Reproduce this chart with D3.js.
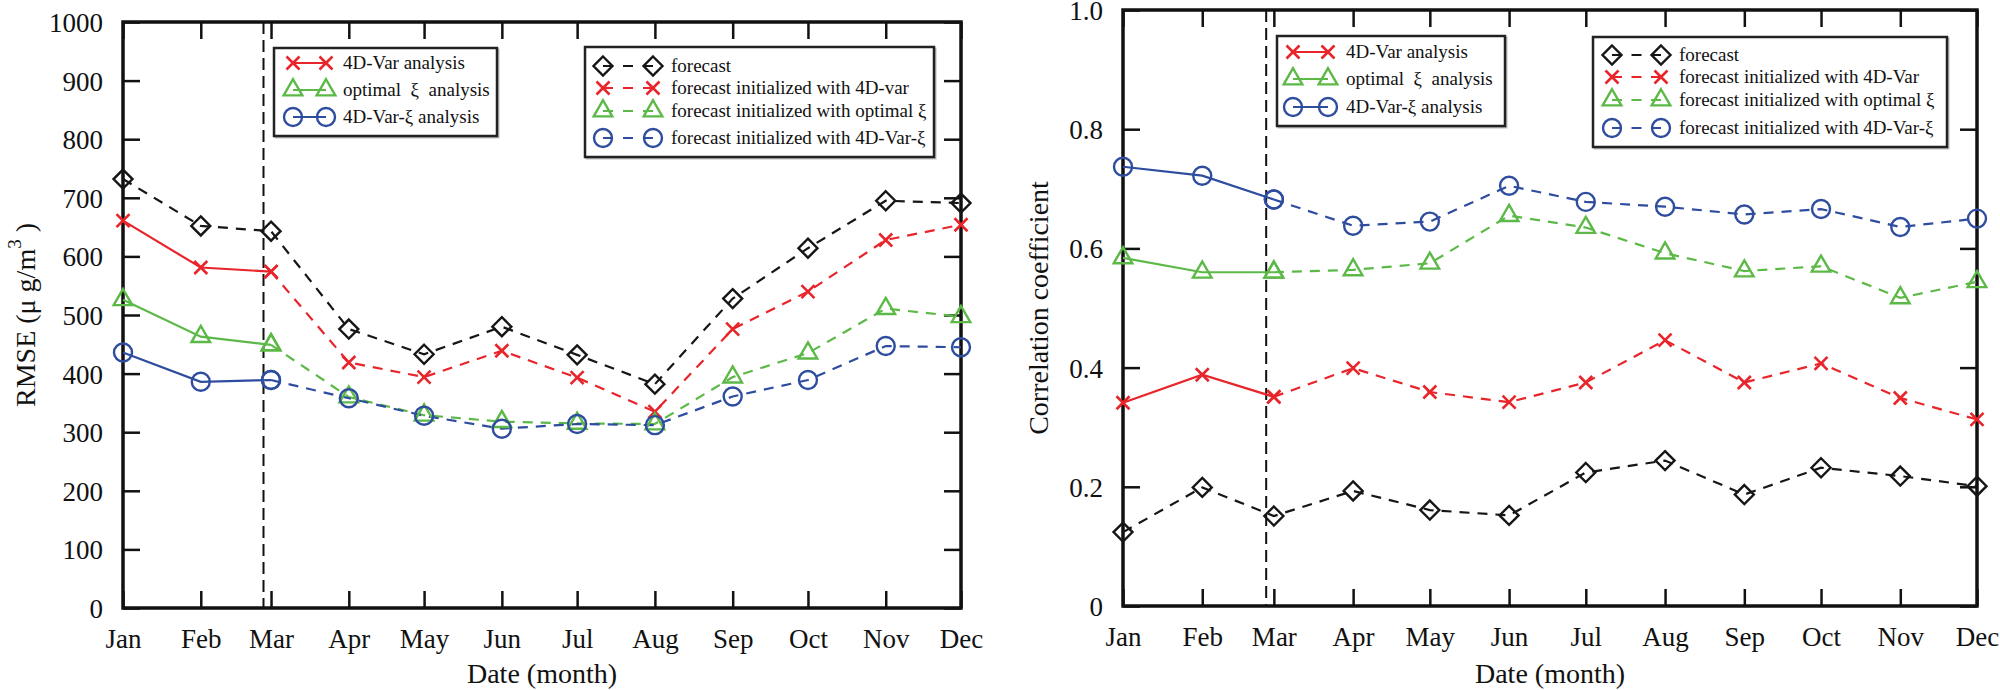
<!DOCTYPE html>
<html>
<head>
<meta charset="utf-8">
<script src="https://cdn.jsdelivr.net/npm/d3@7/dist/d3.min.js"></script>
<style>
  body { margin: 0; background: #fff; }
  svg text { font-family: "Liberation Serif", "Times New Roman", Times, serif; fill: #111; }
</style>
</head>
<body>
<svg id="chart" width="2000" height="690"></svg>
<script>
// ---------------- DATA ----------------
const months = ["Jan", "Feb", "Mar", "Apr", "May", "Jun", "Jul", "Aug", "Sep", "Oct", "Nov", "Dec"];
const year = 2015;
const monthDates = months.map((m, i) => new Date(Date.UTC(year, i, 1)));
const assimilationEnd = new Date(Date.UTC(year, 1, 26));   // vertical dashed line

// analysis: Jan–Mar ; forecasts initialised: Mar–Dec
const analysisIdx = [0, 1, 2];
const forecastIdx = [2, 3, 4, 5, 6, 7, 8, 9, 10, 11];
const allIdx = d3.range(12);

// RMSE (µg/m3)
const rmseForecast         = [732, 652, 643, 476, 433, 480, 432, 382, 528, 614, 695, 691];
const rmse4DVarAnalysis    = [661, 581, 574];
const rmse4DVarForecast    = [574, 419, 394, 439, 393, 335, 476, 540, 628, 654];
const rmseOptXiAnalysis    = [526, 463, 449];
const rmseOptXiForecast    = [449, 360, 329, 318, 315, 314, 394, 435, 511, 497];
const rmse4DVarXiAnalysis  = [436, 386, 389];
const rmse4DVarXiForecast  = [389, 358, 328, 306, 314, 312, 361, 389, 447, 445];
const rmseTicks = [0, 100, 200, 300, 400, 500, 600, 700, 800, 900, 1000];
const rmseTickLabels = ["0", "100", "200", "300", "400", "500", "600", "700", "800", "900", "1000"];

// Correlation coefficient
const ccForecast         = [0.124, 0.199, 0.151, 0.193, 0.161, 0.152, 0.224, 0.244, 0.187, 0.232, 0.218, 0.201];
const cc4DVarAnalysis    = [0.341, 0.388, 0.351];
const cc4DVarForecast    = [0.351, 0.399, 0.359, 0.342, 0.375, 0.446, 0.375, 0.407, 0.349, 0.313];
const ccOptXiAnalysis    = [0.584, 0.560, 0.560];
const ccOptXiForecast    = [0.560, 0.564, 0.575, 0.655, 0.635, 0.592, 0.562, 0.570, 0.517, 0.544];
const cc4DVarXiAnalysis  = [0.737, 0.722, 0.682];
const cc4DVarXiForecast  = [0.682, 0.638, 0.645, 0.705, 0.678, 0.670, 0.657, 0.666, 0.636, 0.650];
const ccTicks = [0, 0.2, 0.4, 0.6, 0.8, 1.0];
const ccTickLabels = ["0", "0.2", "0.4", "0.6", "0.8", "1.0"];

// legend labels
const legendAnalysisLabels = ["4D-Var analysis", "optimal  ξ  analysis", "4D-Var-ξ analysis"];
const legendForecastLabelsL = ["forecast", "forecast initialized with 4D-var", "forecast initialized with optimal ξ", "forecast initialized with 4D-Var-ξ"];
const legendForecastLabelsR = ["forecast", "forecast initialized with 4D-Var", "forecast initialized with optimal ξ", "forecast initialized with 4D-Var-ξ"];

// ---------------- STYLE ----------------
const colors = { black: "#161616", red: "#e8252b", green: "#5cb947", blue: "#2f4d9f" };
const DASH = "10,8";

const svg = d3.select("#chart");

function markerPath(type) {
  if (type === "diamond") { const r = 9.5; return `M0,${-r}L${r},0L0,${r}L${-r},0Z`; }
  if (type === "x") { const r = 6.5; return `M${-r},${-r}L${r},${r}M${-r},${r}L${r},${-r}`; }
  if (type === "triangle") { return d3.symbol(d3.symbolTriangle, 150)(); }
  if (type === "circle") { return d3.symbol(d3.symbolCircle, Math.PI * 81)(); }
}

function drawMarker(g, type, color, x, y) {
  g.append("path")
    .attr("d", markerPath(type))
    .attr("transform", `translate(${x},${y})`)
    .attr("fill", "none")
    .attr("stroke", color)
    .attr("stroke-width", type === "x" ? 2.6 : 2.4)
    .attr("stroke-linejoin", "miter");
}

function makeSeries(d) {
  return [
    { vals: d.fc0, idx: allIdx, color: colors.black, marker: "diamond", dash: true },
    { vals: d.a1, idx: analysisIdx, color: colors.red, marker: "x", dash: false },
    { vals: d.f1, idx: forecastIdx, color: colors.red, marker: "x", dash: true },
    { vals: d.a2, idx: analysisIdx, color: colors.green, marker: "triangle", dash: false },
    { vals: d.f2, idx: forecastIdx, color: colors.green, marker: "triangle", dash: true },
    { vals: d.a3, idx: analysisIdx, color: colors.blue, marker: "circle", dash: false },
    { vals: d.f3, idx: forecastIdx, color: colors.blue, marker: "circle", dash: true },
  ];
}

const panels = [
  {
    left: 123, right: 961, top: 22, bottom: 608,
    domain: [0, 1000], ticks: rmseTicks, tickLabels: rmseTickLabels,
    yTitleX: 25, yTitle: "rmse",
    series: makeSeries({ fc0: rmseForecast, a1: rmse4DVarAnalysis, f1: rmse4DVarForecast,
      a2: rmseOptXiAnalysis, f2: rmseOptXiForecast, a3: rmse4DVarXiAnalysis, f3: rmse4DVarXiForecast }),
    legends: [
      { x: 274, y: 48, w: 223, h: 88, m1: 19, m2: 52, tx: 69, rows: [15, 42, 69],
        items: legendAnalysisLabels.map((l, i) => ({ label: l, s: [colors.red, colors.green, colors.blue][i], m: ["x", "triangle", "circle"][i], dash: false })) },
      { x: 585, y: 47, w: 349, h: 110, m1: 18, m2: 68, tx: 86, rows: [19, 41, 64, 91],
        items: legendForecastLabelsL.map((l, i) => ({ label: l, s: [colors.black, colors.red, colors.green, colors.blue][i], m: ["diamond", "x", "triangle", "circle"][i], dash: true })) }
    ]
  },
  {
    left: 1123, right: 1977, top: 10, bottom: 606,
    domain: [0, 1], ticks: ccTicks, tickLabels: ccTickLabels,
    yTitleX: 1038, yTitle: "Correlation coefficient",
    series: makeSeries({ fc0: ccForecast, a1: cc4DVarAnalysis, f1: cc4DVarForecast,
      a2: ccOptXiAnalysis, f2: ccOptXiForecast, a3: cc4DVarXiAnalysis, f3: cc4DVarXiForecast }),
    legends: [
      { x: 1277, y: 36, w: 228, h: 90, m1: 16, m2: 51, tx: 69, rows: [16, 43, 71],
        items: legendAnalysisLabels.map((l, i) => ({ label: l, s: [colors.red, colors.green, colors.blue][i], m: ["x", "triangle", "circle"][i], dash: false })) },
      { x: 1593, y: 37, w: 354, h: 110, m1: 19, m2: 68, tx: 86, rows: [18, 40, 63, 91],
        items: legendForecastLabelsR.map((l, i) => ({ label: l, s: [colors.black, colors.red, colors.green, colors.blue][i], m: ["diamond", "x", "triangle", "circle"][i], dash: true })) }
    ]
  }
];

const TICK = 17;

panels.forEach(p => {
  const x = d3.scaleUtc().domain([monthDates[0], monthDates[11]]).range([p.left, p.right]);
  const y = d3.scaleLinear().domain(p.domain).range([p.bottom, p.top]);
  const g = svg.append("g");

  // axes (ticks inward)
  const bottomAxis = d3.axisBottom(x).tickValues(monthDates).tickFormat((d, i) => months[i])
    .tickSizeInner(-TICK).tickSizeOuter(0).tickPadding(21);
  const topAxis = d3.axisTop(x).tickValues(monthDates).tickFormat("")
    .tickSizeInner(-TICK).tickSizeOuter(0);
  const leftAxis = d3.axisLeft(y).tickValues(p.ticks).tickFormat((d, i) => p.tickLabels[i])
    .tickSizeInner(-TICK).tickSizeOuter(0).tickPadding(20);
  const rightAxis = d3.axisRight(y).tickValues(p.ticks).tickFormat("")
    .tickSizeInner(-TICK).tickSizeOuter(0);

  const ab = g.append("g").attr("transform", `translate(0,${p.bottom})`).call(bottomAxis);
  const at = g.append("g").attr("transform", `translate(0,${p.top})`).call(topAxis);
  const al = g.append("g").attr("transform", `translate(${p.left},0)`).call(leftAxis);
  const ar = g.append("g").attr("transform", `translate(${p.right},0)`).call(rightAxis);
  [ab, at, al, ar].forEach(a => {
    a.select(".domain").remove();
    a.selectAll(".tick line").attr("stroke", "#111").attr("stroke-width", 2.5);
    a.selectAll("text").attr("font-size", 27).attr("fill", "#111")
      .attr("font-family", '"Liberation Serif", "Times New Roman", serif');
  });
  ab.selectAll("text").attr("dy", "0.71em");
  al.selectAll("text").attr("dy", "0.35em");

  // frame
  g.append("rect").attr("x", p.left).attr("y", p.top)
    .attr("width", p.right - p.left).attr("height", p.bottom - p.top)
    .attr("fill", "none").attr("stroke", "#111").attr("stroke-width", 3.5);

  // vertical dashed separator
  g.append("line")
    .attr("x1", x(assimilationEnd)).attr("x2", x(assimilationEnd))
    .attr("y1", p.top).attr("y2", p.bottom)
    .attr("stroke", "#111").attr("stroke-width", 2).attr("stroke-dasharray", "12,6");

  // series lines
  const line = d3.line().x(d => x(monthDates[d.i])).y(d => y(d.v));
  p.series.forEach(s => {
    const pts = s.vals.map((v, k) => ({ i: s.idx[k], v }));
    g.append("path").datum(pts).attr("d", line)
      .attr("fill", "none").attr("stroke", s.color).attr("stroke-width", 2.2)
      .attr("stroke-dasharray", s.dash ? DASH : null);
  });
  p.series.forEach(s => {
    s.vals.forEach((v, k) => drawMarker(g, s.marker, s.color, x(monthDates[s.idx[k]]), y(v)));
  });

  // axis titles
  g.append("text").attr("x", (p.left + p.right) / 2).attr("y", 683)
    .attr("text-anchor", "middle").attr("font-size", 28).text("Date (month)");

  const yt = g.append("text")
    .attr("transform", `translate(${p.yTitleX},${(p.top + p.bottom) / 2}) rotate(-90)`)
    .attr("text-anchor", "middle").attr("dy", "0.35em").attr("font-size", 28);
  if (p.yTitle === "rmse") {
    yt.append("tspan").text("RMSE (μ g/m");
    yt.append("tspan").attr("font-size", 19).attr("dy", "-0.75em").text("3");
    yt.append("tspan").attr("dy", "0.5em").text(" )");
  } else {
    yt.text(p.yTitle);
  }

  // legends
  p.legends.forEach(L => {
    const lg = g.append("g").attr("transform", `translate(${L.x},${L.y})`);
    lg.append("rect").attr("x", 1.5).attr("y", 1.5).attr("width", L.w).attr("height", L.h)
      .attr("fill", "none").attr("stroke", "#bbb").attr("stroke-width", 2);
    lg.append("rect").attr("width", L.w).attr("height", L.h)
      .attr("fill", "#fff").attr("stroke", "#222").attr("stroke-width", 2.5);
    L.items.forEach((it, r) => {
      const ry = L.rows[r];
      lg.append("line").attr("x1", L.m1).attr("x2", L.m2).attr("y1", ry).attr("y2", ry)
        .attr("stroke", it.s).attr("stroke-width", 2.2)
        .attr("stroke-dasharray", it.dash ? `10,${((L.m2 - L.m1) - 30) / 2}` : null);
      drawMarker(lg, it.m, it.s, L.m1, ry);
      drawMarker(lg, it.m, it.s, L.m2, ry);
      lg.append("text").attr("x", L.tx).attr("y", ry).attr("dy", "0.33em")
        .attr("font-size", 19).attr("xml:space", "preserve").style("white-space", "pre").text(it.label);
    });
  });
});
</script>
</body>
</html>
